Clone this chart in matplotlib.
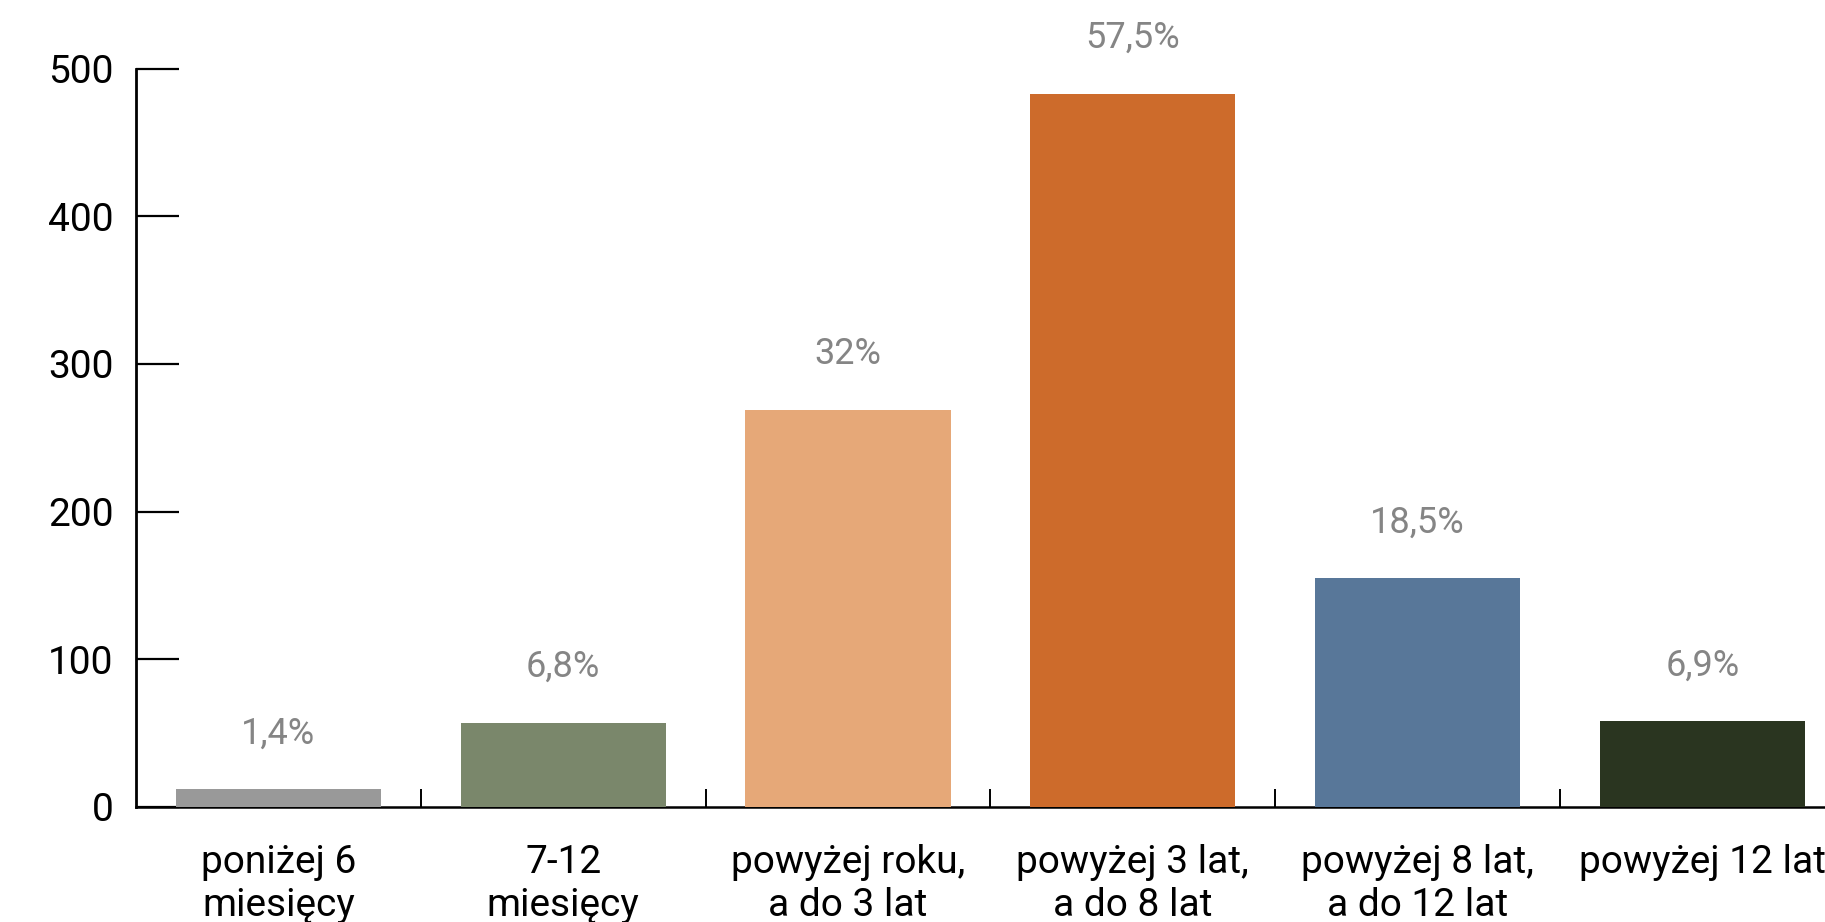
import matplotlib
matplotlib.use('Agg')
import matplotlib.pyplot as plt

# dane
kategorie = ['poniżej 6\nmiesięcy', '7-12\nmiesięcy', 'powyżej roku,\na do 3 lat',
             'powyżej 3 lat,\na do 8 lat', 'powyżej 8 lat,\na do 12 lat', 'powyżej 12 lat']
wartosci = [12, 57, 269, 483, 155, 58]
procenty = ['1,4%', '6,8%', '32%', '57,5%', '18,5%', '6,9%']
kolory = ['#999999', '#7A876B', '#E6A878', '#CD6B2B', '#587799', '#2A3520']

plt.rcParams['font.family'] = ['Roboto', 'DejaVu Sans']

fig = plt.figure(figsize=(18.25, 9.22), dpi=100)
ax = fig.add_axes([0.0745, 0.125, 0.9364, 0.8005])

x = list(range(len(kategorie)))
bars = ax.bar(x, wartosci, width=0.72, color=kolory, zorder=3)

# etykiety procentowe nad słupkami
for xi, v, p in zip(x, wartosci, procenty):
    ax.annotate(p, (xi, v), xytext=(0, 40), textcoords='offset points',
                ha='center', va='center', fontsize=26, color='#858585',
                annotation_clip=False)

ax.set_xlim(-0.5, 5.5)
ax.set_ylim(0, 500)
ax.set_yticks([0, 100, 200, 300, 400, 500])
ax.tick_params(axis='y', direction='in', length=31, width=1.6, labelsize=28, pad=16)

# ticki na granicach kategorii, etykiety w środku
ax.set_xticks([0.5, 1.5, 2.5, 3.5, 4.5])
ax.set_xticklabels([])
ax.tick_params(axis='x', which='major', direction='in', length=13, width=1.4)
ax.set_xticks(x, minor=True)
ax.set_xticklabels(kategorie, minor=True, fontsize=28, linespacing=1.2)
ax.tick_params(axis='x', which='minor', length=0, pad=27)

for s in ['top', 'right']:
    ax.spines[s].set_visible(False)
ax.spines['left'].set_linewidth(2)
ax.spines['bottom'].set_linewidth(1.8)

fig.savefig('out.png', dpi=100)
